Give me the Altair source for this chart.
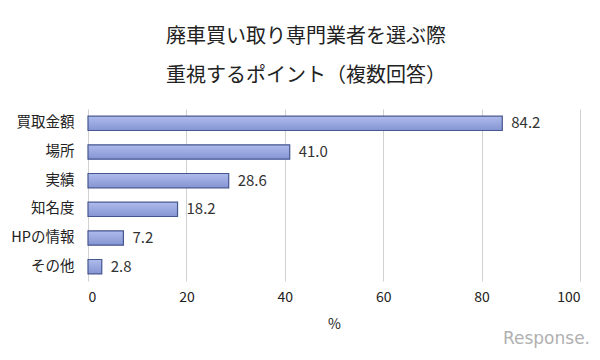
import altair as alt
import pandas as pd

categories = ["買取金額", "場所", "実績", "知名度", "HPの情報", "その他"]
values = [84.2, 41.0, 28.6, 18.2, 7.2, 2.8]
x_ticks = [0, 20, 40, 60, 80, 100]

df = pd.DataFrame({"cat": categories, "val": values})
df["label"] = df["val"].map(lambda v: f"{v:.1f}")

FONT = "Noto Sans CJK JP"

y_enc = alt.Y("cat:N", sort=categories, title=None,
              scale=alt.Scale(paddingInner=0.5, paddingOuter=0.25),
              axis=alt.Axis(domain=False, ticks=False, labelPadding=14,
                            labelFontSize=14.5, labelColor="#222", labelFont=FONT,
                            minExtent=80, maxExtent=80))
x_enc = alt.X("val:Q", title="%",
              scale=alt.Scale(domain=[0, 100]),
              axis=alt.Axis(values=x_ticks, domain=False, ticks=False,
                            grid=True, gridColor="#d0d0d0", labelPadding=9,
                            labelFontSize=14, labelColor="#222", labelFont=FONT,
                            titleFontSize=14, titleFont=FONT, titleColor="#222",
                            titleFontWeight="normal", titlePadding=13))

bars = alt.Chart(df).mark_bar(
    color=alt.Gradient(gradient="linear", x1=0, x2=0, y1=0, y2=1,
                       stops=[alt.GradientStop(color="#aebbec", offset=0),
                              alt.GradientStop(color="#8595d3", offset=1)]),
    stroke="#46568f", strokeWidth=1.2
).encode(x=x_enc, y=y_enc)

labels = alt.Chart(df).mark_text(
    align="left", baseline="middle", dx=9, fontSize=15, color="#333", font=FONT
).encode(x="val:Q", y=alt.Y("cat:N", sort=categories), text="label:N")

watermark = alt.Chart(pd.DataFrame({"t": ["Response."]})).mark_text(
    align="right", baseline="middle", fontSize=17, color="#b0b0b0",
    font="DejaVu Sans"
).encode(x=alt.value({"expr": "width + 10"}), y=alt.value({"expr": "height + 58"}),
         text="t:N")

chart = (bars + labels + watermark).properties(
    width=584, height=344,
    autosize=alt.AutoSizeParams(type="fit", contains="padding"),
    padding={"left": 0, "top": 19, "right": 2, "bottom": 5},
    title=alt.TitleParams(["廃車買い取り専門業者を選ぶ際", "重視するポイント（複数回答）"],
                          fontSize=20, font=FONT, fontWeight="normal",
                          color="#222", lineHeight=39, anchor="middle",
                          frame="group", offset=23, dx=-28)
).configure_view(stroke=None)

chart.save("out.html", embed_options={"renderer": "svg", "actions": False})
